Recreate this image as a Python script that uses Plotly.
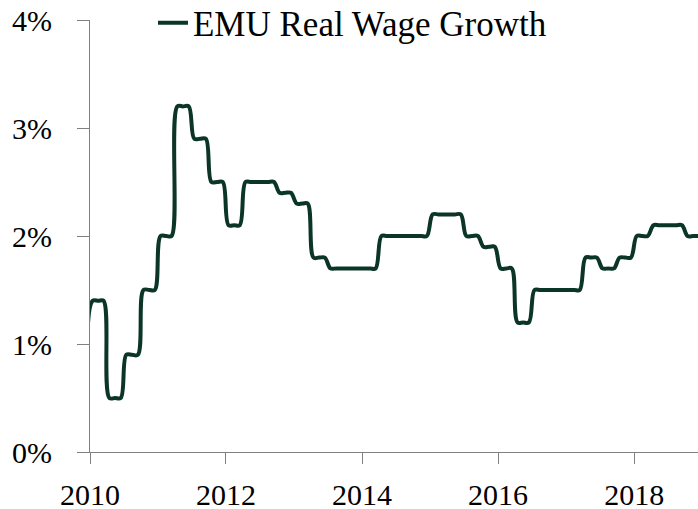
import pandas as pd
import plotly.graph_objects as go

# Monthly observations (mid-month), Dec 2009 .. Dec 2018, in percent
wage_growth = [
    0.5,
    1.4, 1.4, 1.4, 0.5, 0.5, 0.5, 0.9, 0.9, 0.9, 1.5, 1.5, 1.5,   # 2010
    2.0, 2.0, 2.0, 3.2, 3.2, 3.2, 2.9, 2.9, 2.9, 2.5, 2.5, 2.5,   # 2011
    2.1, 2.1, 2.1, 2.5, 2.5, 2.5, 2.5, 2.5, 2.5, 2.4, 2.4, 2.4,   # 2012
    2.3, 2.3, 2.3, 1.8, 1.8, 1.8, 1.7, 1.7, 1.7, 1.7, 1.7, 1.7,   # 2013
    1.7, 1.7, 1.7, 2.0, 2.0, 2.0, 2.0, 2.0, 2.0, 2.0, 2.0, 2.0,   # 2014
    2.2, 2.2, 2.2, 2.2, 2.2, 2.2, 2.0, 2.0, 2.0, 1.9, 1.9, 1.9,   # 2015
    1.7, 1.7, 1.7, 1.2, 1.2, 1.2, 1.5, 1.5, 1.5, 1.5, 1.5, 1.5,   # 2016
    1.5, 1.5, 1.5, 1.8, 1.8, 1.8, 1.7, 1.7, 1.7, 1.8, 1.8, 1.8,   # 2017
    2.0, 2.0, 2.0, 2.1, 2.1, 2.1, 2.1, 2.1, 2.1, 2.0, 2.0, 2.0,   # 2018
]
dates = [pd.Timestamp(year=d.year, month=d.month, day=15)
         for d in pd.date_range("2009-12-01", periods=len(wage_growth), freq="MS")]

year_ticks = ["2010", "2012", "2014", "2016", "2018"]
pct_ticks = [0, 1, 2, 3, 4]
pct_labels = ["0%", "1%", "2%", "3%", "4%"]

line_color = "#0b3526"
axis_color = "#808080"
font_family = "Liberation Serif, serif"

fig = go.Figure()
fig.add_trace(go.Scatter(
    x=dates, y=wage_growth, mode="lines", name="EMU Real Wage Growth",
    line=dict(color=line_color, width=4, shape="spline", smoothing=1),
))

fig.update_layout(
    width=698, height=509,
    margin=dict(l=90, r=0, t=20, b=57, autoexpand=False),
    paper_bgcolor="white", plot_bgcolor="white",
    font=dict(family=font_family, size=30, color="black"),
    showlegend=True,
    legend=dict(x=0.1036, y=0.993, xanchor="left", yanchor="middle",
                bgcolor="rgba(0,0,0,0)", font=dict(size=35),
                itemwidth=30, tracegroupgap=0),
    xaxis=dict(
        type="date",
        range=["2010-01-01", "2018-12-10"],
        tickvals=[f"{y}-01-01" for y in year_ticks],
        ticktext=year_ticks,
        showline=True, linecolor=axis_color, linewidth=1,
        ticks="outside", ticklen=11, tickcolor=axis_color,
        showgrid=False, zeroline=False,
        ticklabelstandoff=5, ticklabeloverflow="allow",
    ),
    yaxis=dict(
        range=[0, 4],
        tickvals=pct_ticks, ticktext=pct_labels,
        showline=True, linecolor=axis_color, linewidth=1,
        ticks="outside", ticklen=12, tickcolor=axis_color,
        showgrid=False, zeroline=False,
        ticklabelstandoff=19, ticklabeloverflow="allow",
    ),
)

# remove the browser's default 8px page margin so the figure fills the window
fig.write_html(
    "out.html",
    config={"displayModeBar": False},
    post_script="document.body.style.margin='0';document.body.style.overflow='hidden';",
)
